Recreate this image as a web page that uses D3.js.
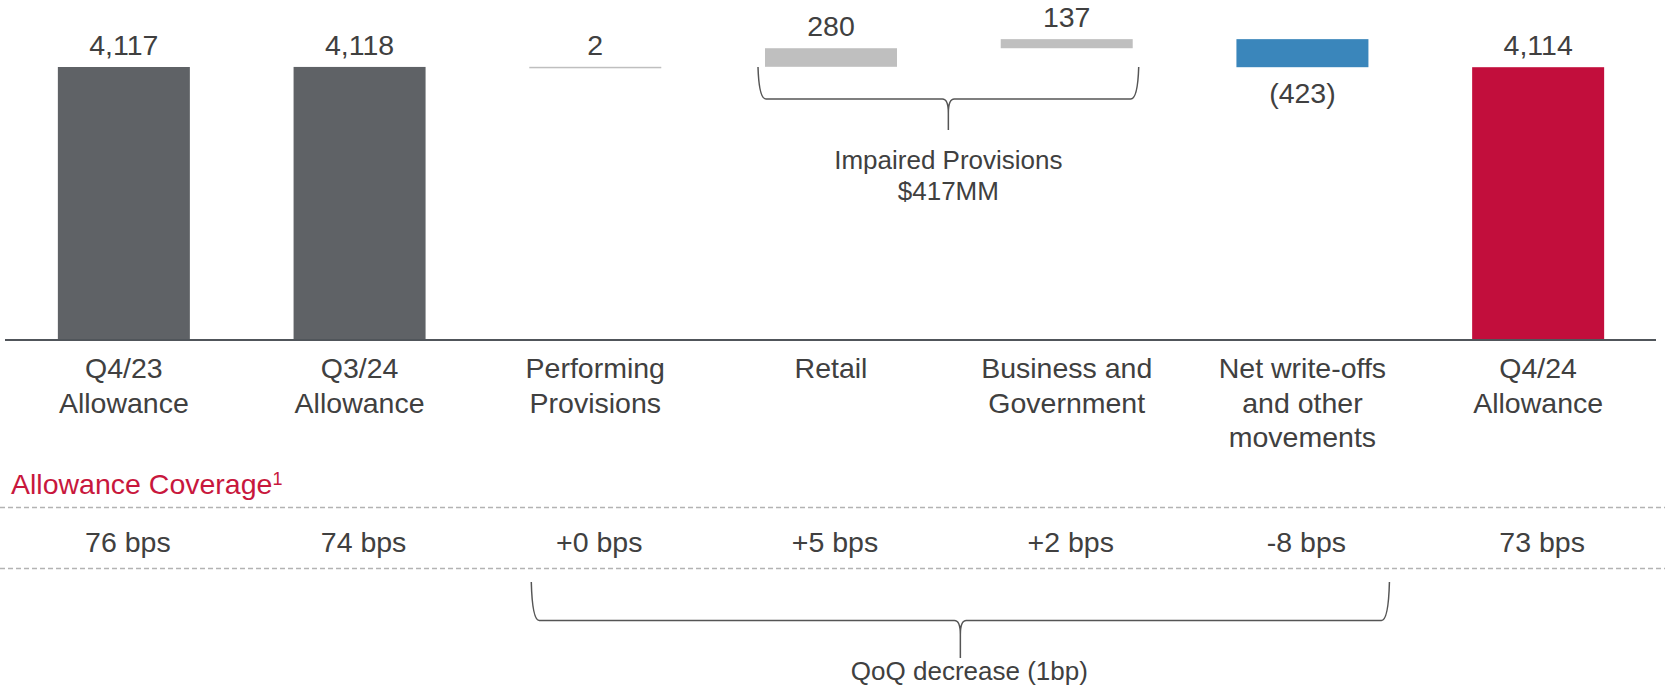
<!DOCTYPE html>
<html>
<head>
<meta charset="utf-8">
<script src="https://cdn.jsdelivr.net/npm/d3@7"></script>
<style>
  html, body { margin: 0; padding: 0; background: #fff; }
  svg { display: block; font-family: "Liberation Sans", Arial, sans-serif; }
</style>
</head>
<body>
<svg id="chart" width="1665" height="688"></svg>
<script>
// Allowance for credit losses walk ($MM)
const categories = [
  ["Q4/23", "Allowance"],
  ["Q3/24", "Allowance"],
  ["Performing", "Provisions"],
  ["Retail"],
  ["Business and", "Government"],
  ["Net write-offs", "and other", "movements"],
  ["Q4/24", "Allowance"]
];
const values = [4117, 4118, 2, 280, 137, -423, 4114];
const kinds = ["start", "total", "performing", "impaired", "impaired", "writeoff", "end"];
const coverage = ["76 bps", "74 bps", "+0 bps", "+5 bps", "+2 bps", "-8 bps", "73 bps"];
const impairedNote = ["Impaired Provisions", "$417MM"];
const coverageTitle = "Allowance Coverage";
const qoqNote = "QoQ decrease (1bp)";

const colorByKind = {
  start: "#5f6266",
  total: "#5f6266",
  performing: "#bfbfbf",
  impaired: "#bfbfbf",
  writeoff: "#3a86bb",
  end: "#c20e3c"
};
const textColor = "#404040";

const svg = d3.select("#chart");

const x = d3.scaleBand()
  .domain(d3.range(categories.length))
  .range([6, 1656])
  .paddingInner(0.44)
  .paddingOuter(0.22);

const y = d3.scaleLinear().domain([0, 4117]).range([340, 67]);

// waterfall steps: totals rest on zero, movements float on the running total
let running = 0;
const steps = values.map((v, i) => {
  const k = kinds[i];
  let lo, hi;
  if (k === "start" || k === "total" || k === "end") {
    lo = 0; hi = v; running = v;
  } else {
    lo = Math.min(running, running + v);
    hi = Math.max(running, running + v);
    running += v;
  }
  return { i, v, k, lo, hi };
});

const fmt = d3.format(",");
const labelOf = v => v < 0 ? "(" + fmt(-v) + ")" : fmt(v);

// bars
svg.append("g").selectAll("rect")
  .data(steps)
  .join("rect")
  .attr("x", d => x(d.i))
  .attr("width", x.bandwidth())
  .attr("y", d => y(d.hi))
  .attr("height", d => Math.max(y(d.lo) - y(d.hi), 1.5))
  .attr("fill", d => colorByKind[d.k]);

// value labels
svg.append("g").selectAll("text")
  .data(steps)
  .join("text")
  .attr("x", d => x(d.i) + x.bandwidth() / 2)
  .attr("y", d => d.v < 0 ? y(d.lo) + 36 : y(d.hi) - 12)
  .attr("text-anchor", "middle")
  .attr("font-size", 28.5)
  .attr("fill", textColor)
  .text(d => labelOf(d.v));

// baseline
svg.append("line")
  .attr("x1", 5).attr("x2", 1656)
  .attr("y1", y(0)).attr("y2", y(0))
  .attr("stroke", "#50555a").attr("stroke-width", 2.2);

// category labels
const cat = svg.append("g").selectAll("text")
  .data(categories)
  .join("text")
  .attr("x", (d, i) => x(i) + x.bandwidth() / 2)
  .attr("y", 378)
  .attr("text-anchor", "middle")
  .attr("font-size", 28.5)
  .attr("fill", textColor);
cat.selectAll("tspan")
  .data(d => d)
  .join("tspan")
  .attr("x", function () { return this.parentNode.getAttribute("x"); })
  .attr("dy", (d, j) => j === 0 ? 0 : 34.5)
  .text(d => d);

// curly brace path helper
function brace(x0, x1, yTop, yMid, yTip) {
  const xc = (x0 + x1) / 2;
  const r = 8, c = 6, dip = 14;
  return `M${x0},${yTop} Q${x0 + 1},${yMid} ${x0 + r},${yMid} L${xc - c},${yMid} Q${xc},${yMid} ${xc},${yMid + dip} L${xc},${yTip}` +
         ` M${xc},${yMid + dip} Q${xc},${yMid} ${xc + c},${yMid} L${x1 - r},${yMid} Q${x1 - 1},${yMid} ${x1},${yTop}`;
}

// impaired provisions brace
const bx0 = x(3) - 7, bx1 = x(4) + x.bandwidth() + 6;
svg.append("path")
  .attr("d", brace(bx0, bx1, y(4117), 99, 130))
  .attr("fill", "none").attr("stroke", "#555").attr("stroke-width", 1.5);
svg.append("g").selectAll("text")
  .data(impairedNote)
  .join("text")
  .attr("x", (bx0 + bx1) / 2)
  .attr("y", (d, j) => 169 + j * 31)
  .attr("text-anchor", "middle")
  .attr("font-size", 26)
  .attr("fill", textColor)
  .text(d => d);

// coverage section
const title = svg.append("text")
  .attr("x", 11).attr("y", 494)
  .attr("font-size", 28.5)
  .attr("fill", "#c8173d")
  .text(coverageTitle);
title.append("tspan").attr("font-size", 18).attr("dy", -9).text("1");

[507.5, 568.5].forEach(yy => {
  svg.append("line")
    .attr("x1", 0).attr("x2", 1665)
    .attr("y1", yy).attr("y2", yy)
    .attr("stroke", "#b3b3b3").attr("stroke-width", 1.5)
    .attr("stroke-dasharray", "5,3");
});

svg.append("g").selectAll("text")
  .data(coverage)
  .join("text")
  .attr("x", (d, i) => x(i) + x.bandwidth() / 2 + 4)
  .attr("y", 552)
  .attr("text-anchor", "middle")
  .attr("font-size", 28.5)
  .attr("fill", textColor)
  .text(d => d);

// QoQ brace
const qx0 = x(2) + 2, qx1 = x(5) + x.bandwidth() + 21;
svg.append("path")
  .attr("d", brace(qx0, qx1, 582, 620.5, 658))
  .attr("fill", "none").attr("stroke", "#555").attr("stroke-width", 1.5);
svg.append("text")
  .attr("x", (qx0 + qx1) / 2 + 9)
  .attr("y", 680)
  .attr("text-anchor", "middle")
  .attr("font-size", 26)
  .attr("fill", textColor)
  .text(qoqNote);
</script>
</body>
</html>
